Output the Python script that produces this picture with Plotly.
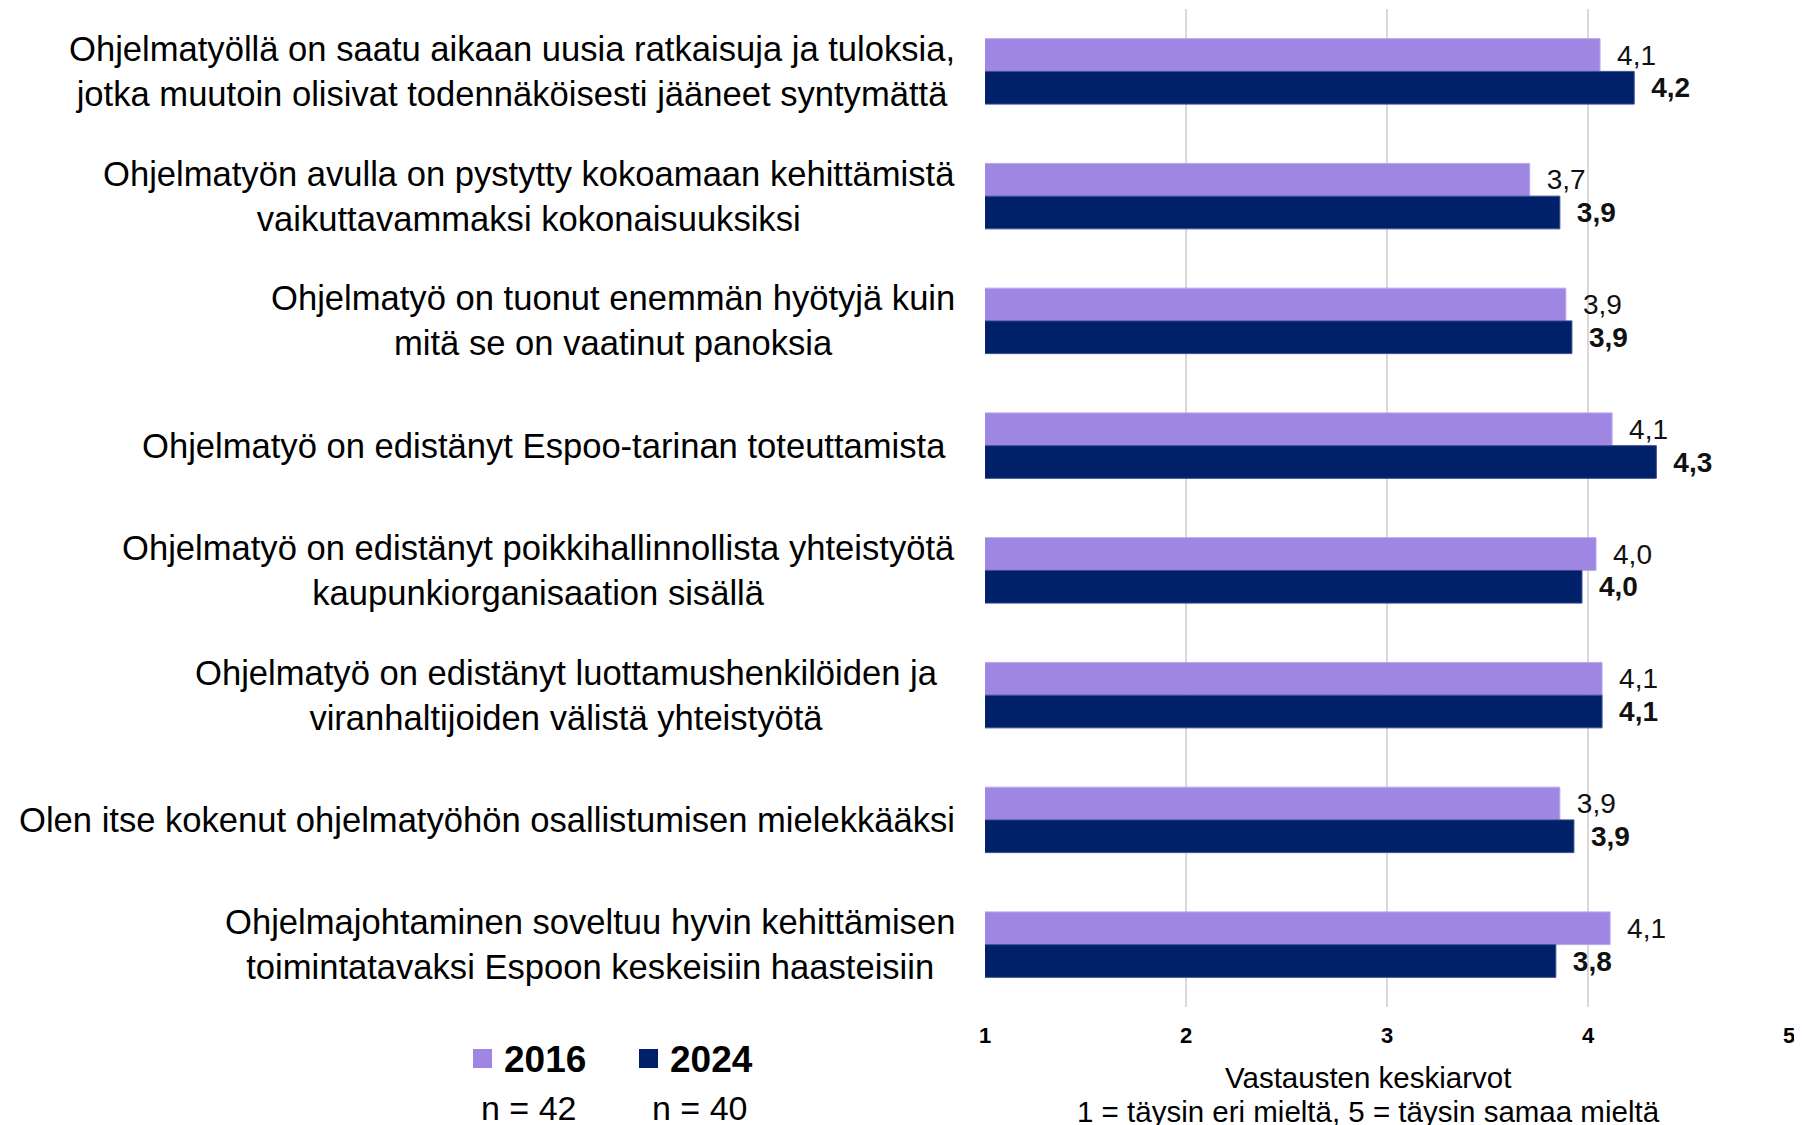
import plotly.graph_objects as go

# --- Data
CATEGORIES = [
    "Ohjelmatyöllä on saatu aikaan uusia ratkaisuja ja tuloksia,<br>jotka muutoin olisivat todennäköisesti jääneet syntymättä",
    "Ohjelmatyön avulla on pystytty kokoamaan kehittämistä<br>vaikuttavammaksi kokonaisuuksiksi",
    "Ohjelmatyö on tuonut enemmän hyötyjä kuin<br>mitä se on vaatinut panoksia",
    "Ohjelmatyö on edistänyt Espoo-tarinan toteuttamista",
    "Ohjelmatyö on edistänyt poikkihallinnollista yhteistyötä<br>kaupunkiorganisaation sisällä",
    "Ohjelmatyö on edistänyt luottamushenkilöiden ja<br>viranhaltijoiden välistä yhteistyötä",
    "Olen itse kokenut ohjelmatyöhön osallistumisen mielekkääksi",
    "Ohjelmajohtaminen soveltuu hyvin kehittämisen<br>toimintatavaksi Espoon keskeisiin haasteisiin",
]
VALUES_2016 = [4.06, 3.71, 3.89, 4.12, 4.04, 4.07, 3.86, 4.11]
VALUES_2024 = [4.23, 3.86, 3.92, 4.34, 3.97, 4.07, 3.93, 3.84]
SERIES = ["2016", "2024"]
N_LABELS = ["n = 42", "n = 40"]
X_TICKS = [1, 2, 3, 4, 5]
AXIS_TITLE = ["Vastausten keskiarvot", "1 = täysin eri mieltä, 5 = täysin samaa mieltä"]

# --- Style
FONT = "Liberation Sans, Arial, sans-serif"
COL_2016 = "#9f86e3"
COL_2024 = "#002169"
LABEL_SIZE = 34.6
LABEL_EXTRA_SHIFT = [0, 0, 0, 9, 0, 17, 0, 0]   # a few labels sit a bit further from the axis

OFF = 8                      # page body margin
W, H = 1802 - OFF, 1125 - OFF
L, R, T, B = 985 - OFF, 13, 9 - OFF, 118
PW, PH = W - L - R, H - T - B


# screen pixel -> paper coords
def px_x(px):
    return (px - OFF - L) / PW


def px_y(py):
    return 1 - (py - OFF - T) / PH


def fmt(v):
    return f"{v:.1f}".replace(".", ",")


cat_ids = list(range(len(CATEGORIES)))
fig = go.Figure()
fig.add_trace(go.Bar(
    y=cat_ids, x=VALUES_2016, orientation="h", name=SERIES[0],
    marker=dict(color=COL_2016, line=dict(color="#b9a9ee", width=1)),
    text=["\u2002" + fmt(v) for v in VALUES_2016], textposition="outside",
    textfont=dict(family=FONT, size=28, color="#111111"),
    constraintext="none", cliponaxis=False, showlegend=False,
))
fig.add_trace(go.Bar(
    y=cat_ids, x=VALUES_2024, orientation="h", name=SERIES[1],
    marker=dict(color=COL_2024, line=dict(color="#3a4f8f", width=1)),
    text=["\u2002<b>" + fmt(v) + "</b>" for v in VALUES_2024], textposition="outside",
    textfont=dict(family=FONT, size=28, color="#111111"),
    constraintext="none", cliponaxis=False, showlegend=False,
))

annotations = []
# category labels, lines centred on each other, right edge near the axis
for i, c in enumerate(CATEGORIES):
    annotations.append(dict(
        x=0, xref="paper", y=i, yref="y", xanchor="right", yanchor="middle",
        xshift=-28 - LABEL_EXTRA_SHIFT[i], align="center", text=c, showarrow=False,
        font=dict(family=FONT, size=LABEL_SIZE, color="#000000"),
    ))

# axis title, two lines placed separately (tighter spacing than plotly's <br>)
for txt, yy in zip(AXIS_TITLE, [1077, 1111]):
    annotations.append(dict(
        x=px_x(1368), xref="paper", y=px_y(yy), yref="paper",
        xanchor="center", yanchor="middle", showarrow=False, text=txt,
        font=dict(family=FONT, size=29.5, color="#000000"),
    ))

# legend (drawn by hand to match the big squares)
shapes = []
for name, col, sq_left, txt_left, n_lbl, n_left in [
    (SERIES[0], COL_2016, 473, 502, N_LABELS[0], 479),
    (SERIES[1], COL_2024, 639, 668, N_LABELS[1], 650),
]:
    shapes.append(dict(
        type="rect", xref="paper", yref="paper",
        x0=px_x(sq_left), x1=px_x(sq_left + 19),
        y0=px_y(1068), y1=px_y(1049),
        fillcolor=col, line=dict(width=0),
    ))
    annotations.append(dict(
        x=px_x(txt_left), xref="paper", y=px_y(1059), yref="paper",
        xanchor="left", yanchor="middle", showarrow=False, text=f"<b>{name}</b>",
        font=dict(family=FONT, size=37, color="#000000"),
    ))
    annotations.append(dict(
        x=px_x(n_left), xref="paper", y=px_y(1108), yref="paper",
        xanchor="left", yanchor="middle", showarrow=False, text=n_lbl,
        font=dict(family=FONT, size=34, color="#000000"),
    ))

fig.update_layout(
    width=W, height=H,
    margin=dict(l=L, r=R, t=T, b=B, autoexpand=False),
    barmode="group", bargap=0.475, bargroupgap=0,
    plot_bgcolor="white", paper_bgcolor="white",
    annotations=annotations, shapes=shapes,
    font=dict(family=FONT),
)
fig.update_xaxes(
    range=[1, 5], tickvals=X_TICKS, ticktext=[f"<b>{t}</b>" for t in X_TICKS],
    showgrid=True, gridcolor="#d9d9d9", gridwidth=1.5, zeroline=False, showline=False,
    tickfont=dict(family=FONT, size=22, color="#000000"), ticklabelstandoff=13,
)
fig.update_yaxes(autorange="reversed", showticklabels=False, showgrid=False, zeroline=False)

fig.write_html("out.html")
